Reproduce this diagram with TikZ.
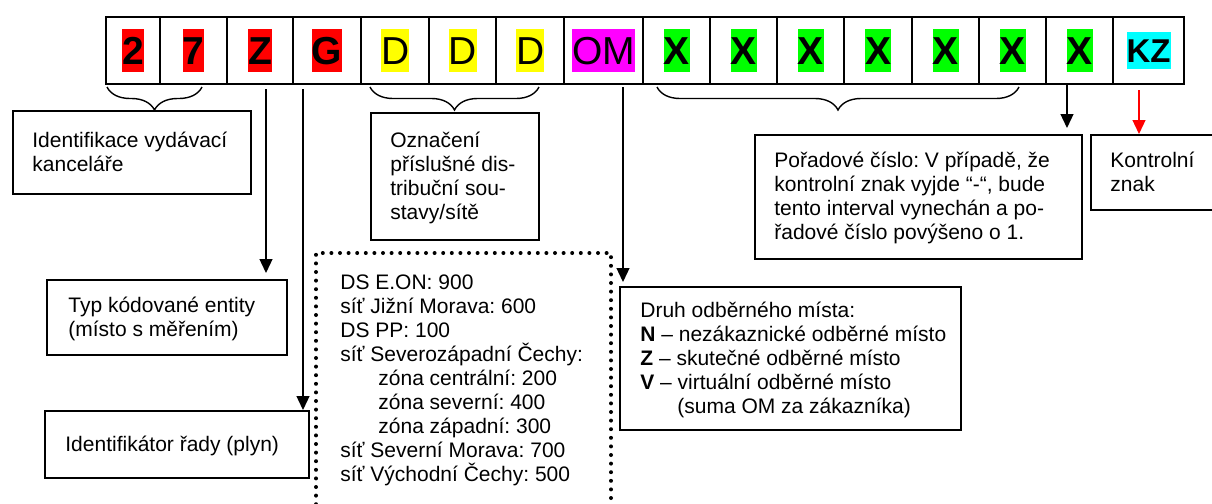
\documentclass[tikz,border=0pt]{standalone}
\usepackage{fontspec}
\setmainfont{Liberation Sans}
\usetikzlibrary{arrows.meta,decorations.pathreplacing}
\definecolor{hlred}{RGB}{255,0,0}
\definecolor{hlyellow}{RGB}{255,255,0}
\definecolor{hlmagenta}{RGB}{255,0,255}
\definecolor{hlgreen}{RGB}{0,255,0}
\definecolor{hlcyan}{RGB}{0,255,255}
\definecolor{arrred}{RGB}{255,0,0}
\newcommand\hlbox[2]{{\setlength\fboxsep{0pt}\colorbox{#1}{\rule[-0.212em]{0pt}{1.117em}#2}}}
\newcommand\bodyfont{\fontsize{10.5pt}{12pt}\selectfont\frenchspacing}
\newcommand\mystrut{\rule[-2.5pt]{0pt}{12pt}}
\begin{document}
\begin{tikzpicture}[x=0.5pt,y=-0.5pt,
  cellbox/.style={draw, line width=1.1pt, inner sep=0pt, minimum height=33.5pt, anchor=north west, font=\fontsize{19.5pt}{22pt}\selectfont},
  boxframe/.style={draw, line width=0.9pt, inner sep=0pt, anchor=north west},
  txt/.style={align=left, inner sep=0pt, font=\bodyfont},
  arr/.style={line width=0.65pt, -{Triangle[length=7pt,width=6.5pt]}},
  brc/.style={line width=0.7pt, decorate, decoration={brace, mirror, amplitude=11.5pt}},
  dotframe/.style={line width=2pt, line cap=round, dash pattern=on 0pt off 4.3pt}]

\useasboundingbox (0,0) rectangle (1212,504);

% code row
\node[cellbox, minimum width=27pt]   (c1)  at (105,16)  {\hlbox{hlred}{\bfseries 2}};
\node[cellbox, minimum width=33.5pt] (c2)  at (159,16)  {\hlbox{hlred}{\bfseries 7}};
\node[cellbox, minimum width=33pt]   (c3)  at (226,16)  {\hlbox{hlred}{\bfseries Z}};
\node[cellbox, minimum width=34pt]   (c4)  at (292,16)  {\hlbox{hlred}{\bfseries G}};
\node[cellbox, minimum width=34pt]   (c5)  at (360,16)  {\hlbox{hlyellow}{D}};
\node[cellbox, minimum width=33.5pt] (c6)  at (428,16)  {\hlbox{hlyellow}{D}};
\node[cellbox, minimum width=34pt]   (c7)  at (495,16)  {\hlbox{hlyellow}{D}};
\node[cellbox, minimum width=39.5pt] (c8)  at (563,16)  {\hlbox{hlmagenta}{OM}};
\node[cellbox, minimum width=33.5pt] (c9)  at (642,16)  {\hlbox{hlgreen}{\bfseries X}};
\node[cellbox, minimum width=33.5pt] (c10) at (709,16)  {\hlbox{hlgreen}{\bfseries X}};
\node[cellbox, minimum width=33.5pt] (c11) at (776,16)  {\hlbox{hlgreen}{\bfseries X}};
\node[cellbox, minimum width=34pt]   (c12) at (843,16)  {\hlbox{hlgreen}{\bfseries X}};
\node[cellbox, minimum width=33.5pt] (c13) at (911,16)  {\hlbox{hlgreen}{\bfseries X}};
\node[cellbox, minimum width=33.5pt] (c14) at (978,16)  {\hlbox{hlgreen}{\bfseries X}};
\node[cellbox, minimum width=33.5pt] (c15) at (1045,16) {\hlbox{hlgreen}{\bfseries X}};
\node[cellbox, minimum width=35.5pt] (c16) at (1112,16) {\fontsize{16.5pt}{19pt}\selectfont\hlbox{hlcyan}{\bfseries KZ}};

% braces
\draw[brc] (107,87) -- (202,87);
\draw[brc] (370,87) -- (539,87);
\draw[brc] (657,87) -- (1019,87);

% boxes
\node[boxframe, minimum width=119pt, minimum height=41.5pt] (idk) at (12,110) {};
\node[txt, anchor=west] (idkT) at ([xshift=10pt]idk.west) {\mystrut Identifikace vydávací\\kanceláře\mystrut};

\node[boxframe, minimum width=120pt, minimum height=37.5pt] (typ) at (46,279) {};
\node[txt, anchor=west] (typT) at ([xshift=11pt]typ.west) {\mystrut Typ kódované entity\\(místo s měřením)\mystrut};

\node[boxframe, minimum width=132pt, minimum height=33.5pt] (idr) at (44,410) {};
\node[txt, anchor=west] (idrT) at ([xshift=10.5pt]idr.west) {\mystrut Identifikátor řady (plyn)\mystrut};

\node[boxframe, minimum width=84pt, minimum height=63.5pt] (ozn) at (370,112) {};
\node[txt, anchor=west] (oznT) at ([xshift=10pt]ozn.west) {\mystrut Označení\\příslušné dis-\\tribuční sou-\\stavy/sítě\mystrut};

\node[boxframe, minimum width=163.5pt, minimum height=62pt] (por) at (754,134) {};
\node[txt, anchor=west] (porT) at ([xshift=10pt]por.west) {\mystrut Pořadové číslo: V případě, že\\kontrolní znak vyjde “-“, bude\\tento interval vynechán a po-\\řadové číslo povýšeno o 1.\mystrut};

\node[boxframe, minimum width=62pt, minimum height=37.5pt] (kon) at (1090,134) {};
\node[txt, anchor=west] (konT) at ([xshift=10pt]kon.west) {\mystrut Kontrolní\\znak\mystrut};

\node[boxframe, minimum width=170.5pt, minimum height=71.5pt] (druh) at (619,286) {};
\node[txt, anchor=west] (druhT) at ([xshift=10.5pt]druh.west) {\mystrut Druh odběrného místa:\\\textbf{N} – nezákaznické odběrné místo\\\textbf{Z} – skutečné odběrné místo\\\textbf{V} – virtuální odběrné místo\\\hspace*{18.5pt}(suma OM za zákazníka)\mystrut};

% dotted box
\draw[dotframe] (316,530) -- (316,253) -- (611,253) -- (611,530);
\node[txt, anchor=north west] (ds) at (340,270) {\mystrut DS E.ON: 900\\síť Jižní Morava: 600\\DS PP: 100\\síť Severozápadní Čechy:\\\hspace*{19pt}zóna centrální: 200\\\hspace*{19pt}zóna severní: 400\\\hspace*{19pt}zóna západní: 300\\síť Severní Morava: 700\\síť Východní Čechy: 500};

% arrows
\coordinate (zs) at (266,89);
\draw[arr, shorten >=3pt] (zs) -- (zs |- typ.north);
\coordinate (gs) at (303,89);
\draw[arr] (gs) -- (gs |- idr.north);
\coordinate (os) at (623,87);
\draw[arr, shorten >=2pt] (os) -- (os |- druh.north);
\coordinate (xs) at (1067,83);
\draw[arr, shorten >=3pt] (xs) -- (xs |- por.north);
\coordinate (ks) at (1139,90);
\draw[arr, arrred] (ks) -- (ks |- kon.north);
\end{tikzpicture}
\end{document}
